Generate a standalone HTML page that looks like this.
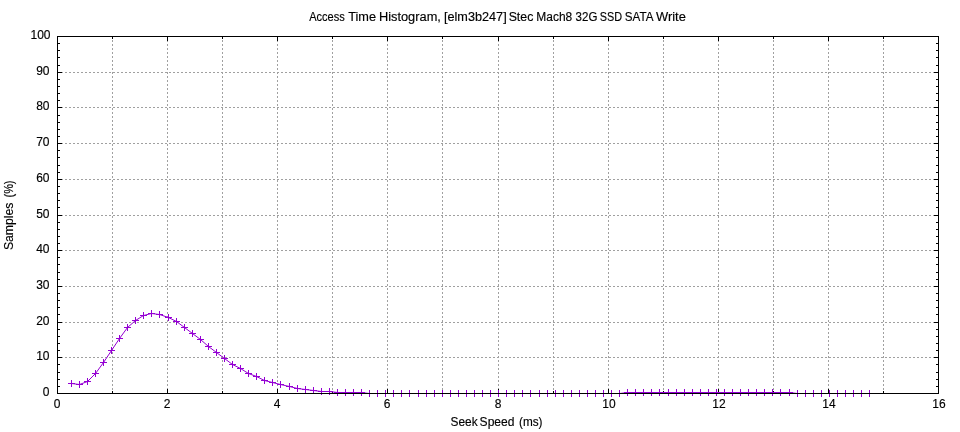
<!DOCTYPE html>
<html lang="en">
<head>
<meta charset="utf-8">
<title>Access Time Histogram, [elm3b247] Stec Mach8 32G SSD SATA Write</title>
<style>
html,body{margin:0;padding:0;background:#fff;}
body{width:960px;height:432px;overflow:hidden;}
svg{display:block;}
text{font-family:"Liberation Sans", "Noto Sans CJK JP", sans-serif;font-size:12px;fill:#000;stroke:#000;stroke-width:0.15px;}
</style>
</head>
<body>
<svg width="960" height="432" viewBox="0 0 960 432">
<rect x="0" y="0" width="960" height="432" fill="#ffffff"/>
<g id="grid" fill="none" stroke="#a0a0a0" stroke-width="1" stroke-dasharray="2 2">
<path d="M57 357.5H938.5"/>
<path d="M57 322.5H938.5"/>
<path d="M57 286.5H938.5"/>
<path d="M57 250.5H938.5"/>
<path d="M57 215.5H938.5"/>
<path d="M57 179.5H938.5"/>
<path d="M57 143.5H938.5"/>
<path d="M57 107.5H938.5"/>
<path d="M57 72.5H938.5"/>
<path d="M112.5 394V36.5"/>
<path d="M167.5 394V36.5"/>
<path d="M222.5 394V36.5"/>
<path d="M277.5 394V36.5"/>
<path d="M332.5 394V36.5"/>
<path d="M387.5 394V36.5"/>
<path d="M442.5 394V36.5"/>
<path d="M498.5 394V36.5"/>
<path d="M553.5 394V36.5"/>
<path d="M608.5 394V36.5"/>
<path d="M663.5 394V36.5"/>
<path d="M718.5 394V36.5"/>
<path d="M773.5 394V36.5"/>
<path d="M828.5 394V36.5"/>
<path d="M883.5 394V36.5"/>
</g>
<g id="tics" fill="none" stroke="#000" stroke-width="1">
<path d="M57.5 393.5h4.5M938.5 393.5h-4.5M57.5 386.5h2.5M938.5 386.5h-2.5M57.5 379.5h2.5M938.5 379.5h-2.5M57.5 372.5h2.5M938.5 372.5h-2.5M57.5 364.5h2.5M938.5 364.5h-2.5M57.5 357.5h4.5M938.5 357.5h-4.5M57.5 350.5h2.5M938.5 350.5h-2.5M57.5 343.5h2.5M938.5 343.5h-2.5M57.5 336.5h2.5M938.5 336.5h-2.5M57.5 329.5h2.5M938.5 329.5h-2.5M57.5 322.5h4.5M938.5 322.5h-4.5M57.5 314.5h2.5M938.5 314.5h-2.5M57.5 307.5h2.5M938.5 307.5h-2.5M57.5 300.5h2.5M938.5 300.5h-2.5M57.5 293.5h2.5M938.5 293.5h-2.5M57.5 286.5h4.5M938.5 286.5h-4.5M57.5 279.5h2.5M938.5 279.5h-2.5M57.5 272.5h2.5M938.5 272.5h-2.5M57.5 264.5h2.5M938.5 264.5h-2.5M57.5 257.5h2.5M938.5 257.5h-2.5M57.5 250.5h4.5M938.5 250.5h-4.5M57.5 243.5h2.5M938.5 243.5h-2.5M57.5 236.5h2.5M938.5 236.5h-2.5M57.5 229.5h2.5M938.5 229.5h-2.5M57.5 222.5h2.5M938.5 222.5h-2.5M57.5 215.5h4.5M938.5 215.5h-4.5M57.5 207.5h2.5M938.5 207.5h-2.5M57.5 200.5h2.5M938.5 200.5h-2.5M57.5 193.5h2.5M938.5 193.5h-2.5M57.5 186.5h2.5M938.5 186.5h-2.5M57.5 179.5h4.5M938.5 179.5h-4.5M57.5 172.5h2.5M938.5 172.5h-2.5M57.5 165.5h2.5M938.5 165.5h-2.5M57.5 157.5h2.5M938.5 157.5h-2.5M57.5 150.5h2.5M938.5 150.5h-2.5M57.5 143.5h4.5M938.5 143.5h-4.5M57.5 136.5h2.5M938.5 136.5h-2.5M57.5 129.5h2.5M938.5 129.5h-2.5M57.5 122.5h2.5M938.5 122.5h-2.5M57.5 115.5h2.5M938.5 115.5h-2.5M57.5 107.5h4.5M938.5 107.5h-4.5M57.5 100.5h2.5M938.5 100.5h-2.5M57.5 93.5h2.5M938.5 93.5h-2.5M57.5 86.5h2.5M938.5 86.5h-2.5M57.5 79.5h2.5M938.5 79.5h-2.5M57.5 72.5h4.5M938.5 72.5h-4.5M57.5 65.5h2.5M938.5 65.5h-2.5M57.5 57.5h2.5M938.5 57.5h-2.5M57.5 50.5h2.5M938.5 50.5h-2.5M57.5 43.5h2.5M938.5 43.5h-2.5M57.5 36.5h4.5M938.5 36.5h-4.5M57.5 393.5v-4.5M57.5 36.5v4.5M112.5 393.5v-2.5M112.5 36.5v2.5M167.5 393.5v-4.5M167.5 36.5v4.5M222.5 393.5v-2.5M222.5 36.5v2.5M277.5 393.5v-4.5M277.5 36.5v4.5M332.5 393.5v-2.5M332.5 36.5v2.5M387.5 393.5v-4.5M387.5 36.5v4.5M442.5 393.5v-2.5M442.5 36.5v2.5M498.5 393.5v-4.5M498.5 36.5v4.5M553.5 393.5v-2.5M553.5 36.5v2.5M608.5 393.5v-4.5M608.5 36.5v4.5M663.5 393.5v-2.5M663.5 36.5v2.5M718.5 393.5v-4.5M718.5 36.5v4.5M773.5 393.5v-2.5M773.5 36.5v2.5M828.5 393.5v-4.5M828.5 36.5v4.5M883.5 393.5v-2.5M883.5 36.5v2.5M938.5 393.5v-4.5M938.5 36.5v4.5"/>
</g>
<g id="data" fill="none" stroke="#9400d3" stroke-width="1">
<path d="M71.5 383.5 L79.5 384.5 L87.5 381.5 L95.5 373.5 L103.5 362.5 L111.5 350.5 L119.5 338.5 L127.5 327.5 L135.5 320.5 L143.5 315.5 L151.5 313.5 L159.5 314.5 L168.5 317.5 L176.5 321.5 L184.5 327.5 L192.5 333.5 L200.5 339.5 L208.5 346.5 L216.5 352.5 L224.5 358.5 L232.5 364.5 L240.5 368.5 L248.5 373.5 L256.5 376.5 L264.5 380.5 L272.5 382.5 L280.5 384.5 L289.5 386.5 L297.5 388.5 L305.5 389.5 L313.5 390.5 L321.5 391.5 L329.5 391.5 L337.5 392.5 L345.5 392.5 L353.5 392.5 L361.5 392.5 L369.5 393.5 L377.5 393.5 L385.5 393.5 L393.5 393.5 L401.5 393.5 L409.5 393.5 L418.5 393.5 L426.5 393.5 L434.5 393.5 L442.5 393.5 L450.5 393.5 L458.5 393.5 L466.5 393.5 L474.5 393.5 L482.5 393.5 L490.5 393.5 L498.5 393.5 L506.5 393.5 L514.5 393.5 L522.5 393.5 L530.5 393.5 L539.5 393.5 L547.5 393.5 L555.5 393.5 L563.5 393.5 L571.5 393.5 L579.5 393.5 L587.5 393.5 L595.5 393.5 L603.5 393.5 L611.5 393.5 L619.5 393.5 L627.5 392.5 L635.5 392.5 L643.5 392.5 L651.5 392.5 L659.5 392.5 L668.5 392.5 L676.5 392.5 L684.5 392.5 L692.5 392.5 L700.5 392.5 L708.5 392.5 L716.5 392.5 L724.5 392.5 L732.5 392.5 L740.5 392.5 L748.5 392.5 L756.5 392.5 L764.5 392.5 L772.5 392.5 L780.5 392.5 L789.5 392.5 L797.5 393.5 L805.5 393.5 L813.5 393.5 L821.5 393.5 L829.5 393.5 L837.5 393.5 L845.5 393.5 L853.5 393.5 L861.5 393.5 L869.5 393.5" stroke-linejoin="round"/>
<path d="M68 383.5h7M71.5 380v7M76 384.5h7M79.5 381v7M84 381.5h7M87.5 378v7M92 373.5h7M95.5 370v7M100 362.5h7M103.5 359v7M108 350.5h7M111.5 347v7M116 338.5h7M119.5 335v7M124 327.5h7M127.5 324v7M132 320.5h7M135.5 317v7M140 315.5h7M143.5 312v7M148 313.5h7M151.5 310v7M156 314.5h7M159.5 311v7M165 317.5h7M168.5 314v7M173 321.5h7M176.5 318v7M181 327.5h7M184.5 324v7M189 333.5h7M192.5 330v7M197 339.5h7M200.5 336v7M205 346.5h7M208.5 343v7M213 352.5h7M216.5 349v7M221 358.5h7M224.5 355v7M229 364.5h7M232.5 361v7M237 368.5h7M240.5 365v7M245 373.5h7M248.5 370v7M253 376.5h7M256.5 373v7M261 380.5h7M264.5 377v7M269 382.5h7M272.5 379v7M277 384.5h7M280.5 381v7M286 386.5h7M289.5 383v7M294 388.5h7M297.5 385v7M302 389.5h7M305.5 386v7M310 390.5h7M313.5 387v7M318 391.5h7M321.5 388v7M326 391.5h7M329.5 388v7M334 392.5h7M337.5 389v7M342 392.5h7M345.5 389v7M350 392.5h7M353.5 389v7M358 392.5h7M361.5 389v7M366 393.5h7M369.5 390v7M374 393.5h7M377.5 390v7M382 393.5h7M385.5 390v7M390 393.5h7M393.5 390v7M398 393.5h7M401.5 390v7M406 393.5h7M409.5 390v7M415 393.5h7M418.5 390v7M423 393.5h7M426.5 390v7M431 393.5h7M434.5 390v7M439 393.5h7M442.5 390v7M447 393.5h7M450.5 390v7M455 393.5h7M458.5 390v7M463 393.5h7M466.5 390v7M471 393.5h7M474.5 390v7M479 393.5h7M482.5 390v7M487 393.5h7M490.5 390v7M495 393.5h7M498.5 390v7M503 393.5h7M506.5 390v7M511 393.5h7M514.5 390v7M519 393.5h7M522.5 390v7M527 393.5h7M530.5 390v7M536 393.5h7M539.5 390v7M544 393.5h7M547.5 390v7M552 393.5h7M555.5 390v7M560 393.5h7M563.5 390v7M568 393.5h7M571.5 390v7M576 393.5h7M579.5 390v7M584 393.5h7M587.5 390v7M592 393.5h7M595.5 390v7M600 393.5h7M603.5 390v7M608 393.5h7M611.5 390v7M616 393.5h7M619.5 390v7M624 392.5h7M627.5 389v7M632 392.5h7M635.5 389v7M640 392.5h7M643.5 389v7M648 392.5h7M651.5 389v7M656 392.5h7M659.5 389v7M665 392.5h7M668.5 389v7M673 392.5h7M676.5 389v7M681 392.5h7M684.5 389v7M689 392.5h7M692.5 389v7M697 392.5h7M700.5 389v7M705 392.5h7M708.5 389v7M713 392.5h7M716.5 389v7M721 392.5h7M724.5 389v7M729 392.5h7M732.5 389v7M737 392.5h7M740.5 389v7M745 392.5h7M748.5 389v7M753 392.5h7M756.5 389v7M761 392.5h7M764.5 389v7M769 392.5h7M772.5 389v7M777 392.5h7M780.5 389v7M786 392.5h7M789.5 389v7M794 393.5h7M797.5 390v7M802 393.5h7M805.5 390v7M810 393.5h7M813.5 390v7M818 393.5h7M821.5 390v7M826 393.5h7M829.5 390v7M834 393.5h7M837.5 390v7M842 393.5h7M845.5 390v7M850 393.5h7M853.5 390v7M858 393.5h7M861.5 390v7M866 393.5h7M869.5 390v7"/>
</g>
<g id="border" fill="none" stroke="#000" stroke-width="1">
<rect x="57.5" y="36.5" width="881" height="357"/>
</g>
<g id="ylabels" text-anchor="end">
<text x="49.5" y="396">0</text>
<text x="49.5" y="360">10</text>
<text x="49.5" y="325">20</text>
<text x="49.5" y="289">30</text>
<text x="49.5" y="253">40</text>
<text x="49.5" y="218">50</text>
<text x="49.5" y="182">60</text>
<text x="49.5" y="146">70</text>
<text x="49.5" y="110">80</text>
<text x="49.5" y="75">90</text>
<text x="50.5" y="39">100</text>
</g>
<g id="xlabels" text-anchor="middle">
<text x="57.2" y="408">0</text>
<text x="167.2" y="408">2</text>
<text x="277.2" y="408">4</text>
<text x="387.2" y="408">6</text>
<text x="498.2" y="408">8</text>
<text x="609" y="408">10</text>
<text x="719" y="408">12</text>
<text x="829" y="408">14</text>
<text x="939" y="408">16</text>
</g>
<text y="21"><tspan x="309.2" textLength="35.51" lengthAdjust="spacingAndGlyphs">Access</tspan> <tspan x="348.2" textLength="27.85" lengthAdjust="spacingAndGlyphs">Time</tspan> <tspan x="378.93" textLength="61.95" lengthAdjust="spacingAndGlyphs">Histogram,</tspan> <tspan x="444" textLength="62.65" lengthAdjust="spacingAndGlyphs">[elm3b247]</tspan> <tspan x="508.67" textLength="24.64" lengthAdjust="spacingAndGlyphs">Stec</tspan> <tspan x="536.3" textLength="35.93" lengthAdjust="spacingAndGlyphs">Mach8</tspan> <tspan x="575.6" textLength="21.76" lengthAdjust="spacingAndGlyphs">32G</tspan> <tspan x="599.8" textLength="22.33" lengthAdjust="spacingAndGlyphs">SSD</tspan> <tspan x="624.75" textLength="28.03" lengthAdjust="spacingAndGlyphs">SATA</tspan> <tspan x="656" textLength="29.84" lengthAdjust="spacingAndGlyphs">Write</tspan></text>
<text y="425.5"><tspan x="450.51" textLength="27.1" lengthAdjust="spacingAndGlyphs">Seek</tspan> <tspan x="479.6" textLength="34.86" lengthAdjust="spacingAndGlyphs">Speed</tspan> <tspan x="519" textLength="23.5" lengthAdjust="spacingAndGlyphs">(ms)</tspan></text>
<text y="0" transform="translate(13 215) rotate(-90)"><tspan x="-35.12" textLength="47.6" lengthAdjust="spacingAndGlyphs">Samples</tspan> <tspan x="17.5" textLength="17.01" lengthAdjust="spacingAndGlyphs">(%)</tspan></text>
</svg>
</body>
</html>
